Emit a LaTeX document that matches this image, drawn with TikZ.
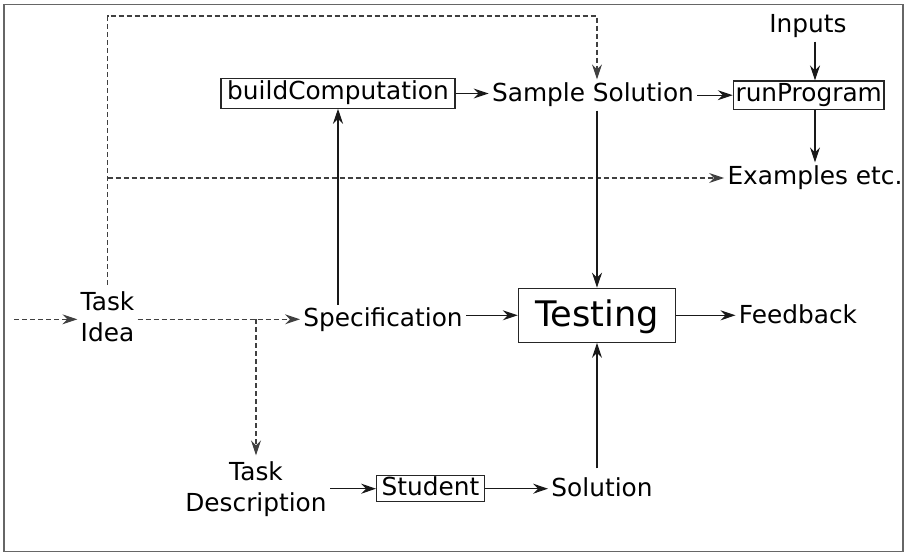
\documentclass[tikz,border=0pt]{standalone}
\usepackage{fontspec}
\setmainfont{DejaVu Sans}
\usetikzlibrary{arrows.meta}
\begin{document}
\begin{tikzpicture}[x=0.5pt,y=-0.5pt,
  txt/.style={font=\fontsize{12.4}{15.5}\selectfont, inner sep=1.5pt, text height=9.3pt, text depth=2.9pt},
  txtml/.style={font=\fontsize{12.4}{15.5}\selectfont, inner sep=1.5pt, align=center},
  boxn/.style={txt, draw=black!85, line width=0.6pt, inner sep=0pt},
  bigbox/.style={draw=black!85, line width=0.6pt, inner sep=0pt, font=\fontsize{17.6}{20}\selectfont, text height=13.4pt, text depth=2pt},
  arr/.style={-{Stealth[length=7.5pt,width=5pt,inset=2.5pt]}, line width=0.55pt, draw=black!90},
  dsh/.style={arr, dash pattern=on 2.5pt off 1.5pt, draw=black!75},
  frame/.style={draw=black!60, line width=0.7pt}]
\useasboundingbox (0,0) rectangle (907,553);
\draw[frame] (4,4.3) rectangle (903,551.7);

\node[txt] (inputs) at (808,26) {Inputs};
\node[boxn, minimum width=117pt, minimum height=14.65pt] (bc) at (338,93.5) {buildComputation};
\node[txt] (sample) at (593,95) {Sample Solution};
\node[boxn, minimum width=75.35pt, minimum height=14.15pt] (rp) at (808.7,95.2) {runProgram};
\node[txt] (ex) at (815,178) {Examples etc.};
\node[txtml] (taskidea) at (107.5,319.3) {\strut Task\\\strut Idea};
\node[txt] (spec) at (383,320.5) {Specification};
\node[bigbox, minimum width=78.65pt, minimum height=27pt] (testing) at (597,315.3) {Testing};
\node[txt] (feedback) at (798,317.3) {Feedback};
\node[txtml] (taskdesc) at (256,489.7) {\strut Task\\\strut Description};
\node[boxn, minimum width=53.8pt, minimum height=13pt] (student) at (430.5,488.7) {Student};
\node[txt] (solution) at (602,490) {Solution};

\coordinate (in) at (14,319.3);
\coordinate (toplev) at (0,16);

\draw[dsh] (in) -- (taskidea.west |- in);
\draw[dsh] (taskidea.east) -- (spec.west |- taskidea.east);
\draw[dsh] (taskdesc.north |- taskidea.east) -- (taskdesc.north);
\draw[dsh] (taskidea.north) |- (testing.north |- toplev) -- (testing.north |- sample.north);
\draw[dsh] (taskidea.north |- ex.west) -- (ex.west);

\draw[arr] (spec.north -| bc.south) -- (bc.south);
\draw[arr] (bc.east) -- (sample.west |- bc.east);
\draw[arr] (sample.east |- rp.west) -- (rp.west);
\draw[arr] (inputs.south -| ex.north) -- (rp.north -| ex.north);
\draw[arr] (rp.south -| ex.north) -- (ex.north);
\draw[arr] (testing.north |- sample.south) -- (testing.north);
\draw[arr] (spec.east |- testing.west) -- (testing.west);
\draw[arr] (testing.east) -- (feedback.west |- testing.east);
\draw[arr] (taskdesc.east |- student.west) -- (student.west);
\draw[arr] (student.east) -- (solution.west |- student.east);
\draw[arr] ([yshift=3pt]testing.south |- solution.north) -- (testing.south);
\end{tikzpicture}
\end{document}
